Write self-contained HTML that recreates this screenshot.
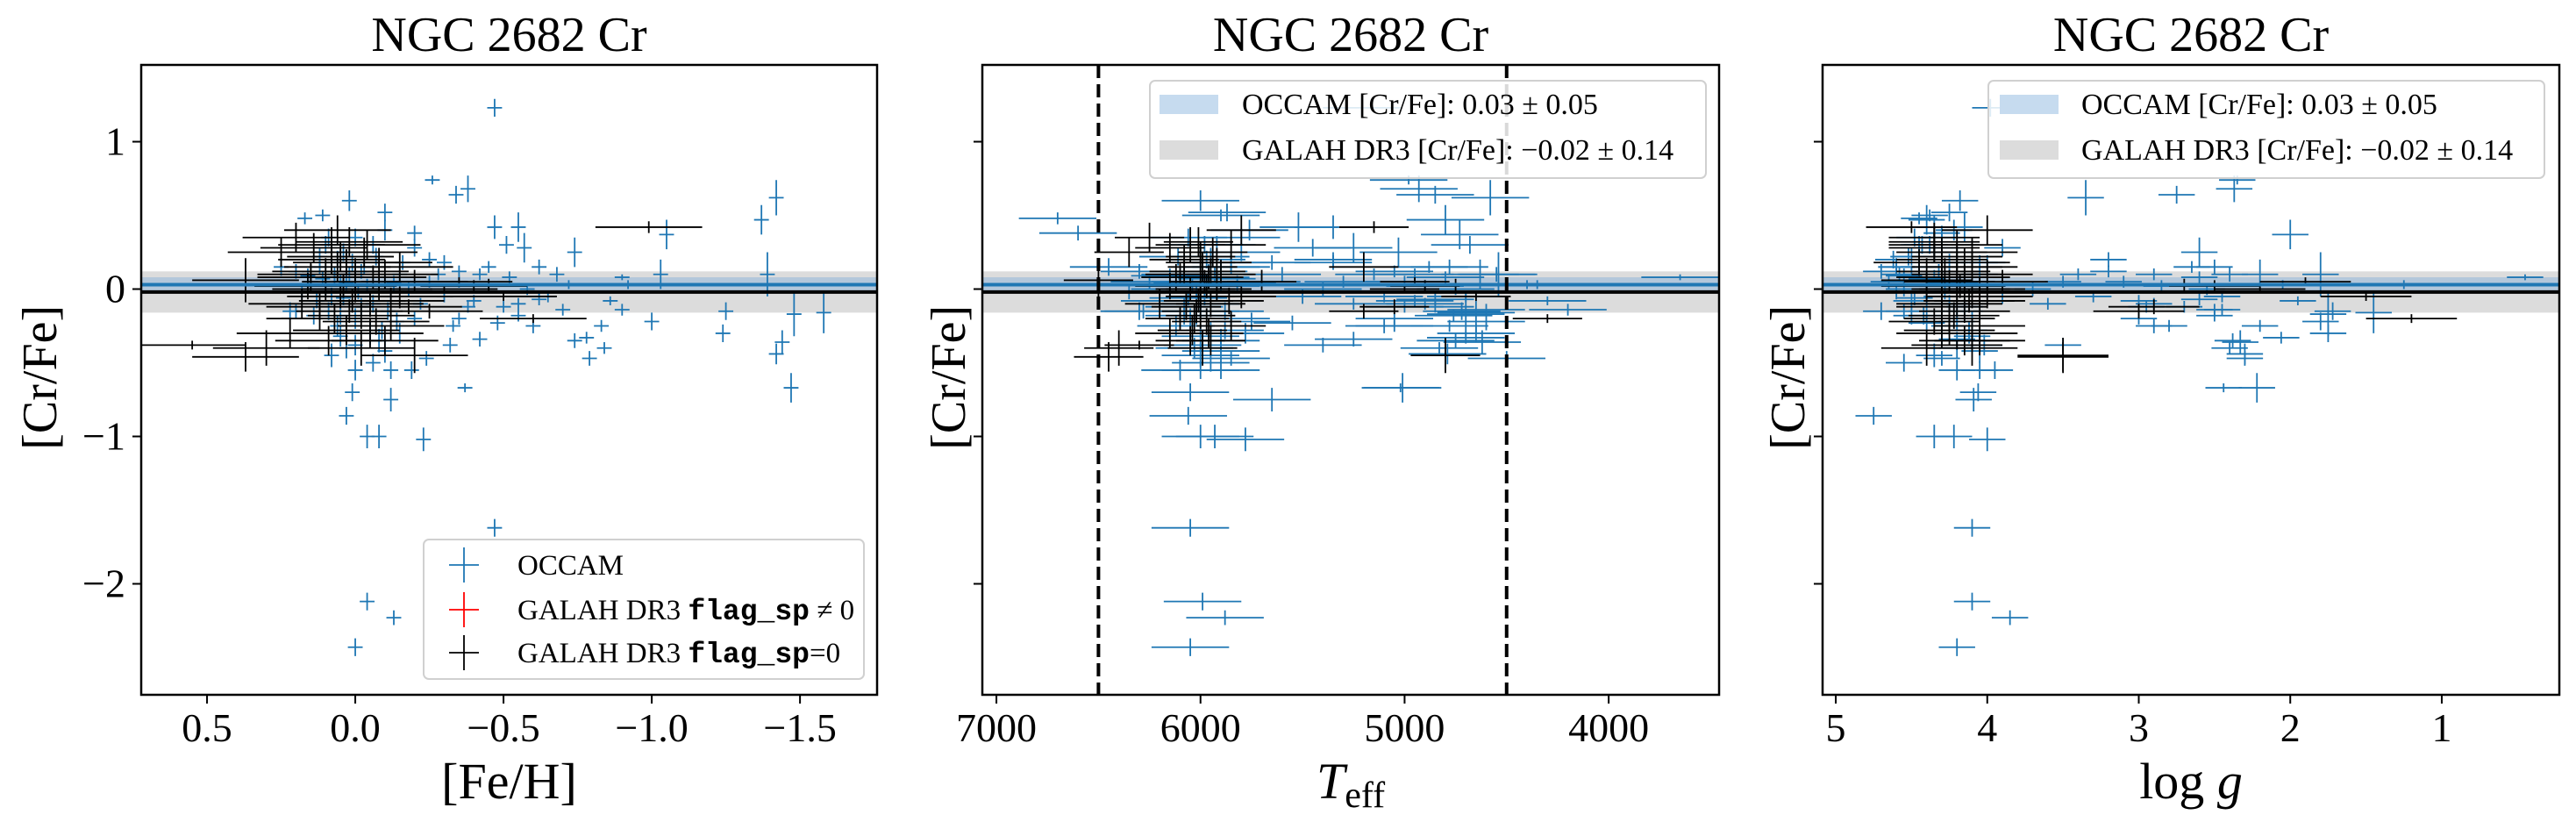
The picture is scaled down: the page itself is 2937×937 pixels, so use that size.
<!DOCTYPE html>
<html><head><meta charset="utf-8">
<style>
html,body{margin:0;padding:0;background:#fff;}
svg{display:block;}
text{font-family:"Liberation Serif","DejaVu Serif",serif;fill:#000;}
</style></head>
<body>
<svg id="fig" width="2937" height="937" viewBox="0 0 2937 937" xmlns="http://www.w3.org/2000/svg"></svg>
<script>
// ---- data ----
const occFeh  = [-0.47,-0.26,-0.34,-0.38,-0.47,-0.55,-0.51,-0.57,-1.05,-1.37,-1.42,-1.39,-1.03,-0.74,0.02,0.11,-0.10,0.17,-0.20,0.00,-0.04,-0.13,-0.47,-0.04,-0.08,-0.23,0.03,0.01,-0.12,-0.37,-1.47,-1.42,-1.44,-1.58,-1.48,-1.24,-1.25,-1.00,-0.79,-0.74,-0.78,-0.83,-0.84,-0.86,-0.90,-0.60,-0.42,-0.48,-0.32,-0.24,-0.19,-0.12,-0.06,0.00,-0.33,-0.20,-0.55,-0.62,-0.70,-0.92,-0.72,-0.90,0.05,0.08,0.02,-0.03,0.10,-0.06,0.12,-0.10,0.00,-0.05,0.04,-0.15,-0.12,0.15,0.20,0.25,-0.02,0.06,-0.08,0.03,-0.18,-0.25,-0.30,-0.35,-0.40,-0.45,-0.50,-0.52,-0.58,-0.65,-0.35,-0.28,-0.22,-0.38,-0.42,0.07,-0.04,0.09,0.13,-0.14,0.01,-0.07,0.18,-0.16,0.05,-0.10,0.00,-0.20,-0.62,-0.68,-0.30,0.10,0.08,0.14,0.11,-0.01,0.06,-0.09,0.16,0.22,-0.13,0.04,-0.02,0.05,0.12,-0.11,0.03,-0.06,0.09,-0.15,0.00,0.07,-0.25,-0.45,-0.55,-0.35,0.20,-0.10];
const occCr   = [1.23,0.74,0.64,0.68,0.42,0.42,0.30,0.28,0.37,0.47,0.62,0.10,0.10,0.25,0.60,0.50,0.52,0.48,0.38,-2.43,-2.12,-2.23,-1.62,-1.00,-1.00,-1.02,-0.86,-0.70,-0.75,-0.67,-0.67,-0.44,-0.36,-0.16,-0.17,-0.30,-0.15,-0.22,-0.47,-0.35,-0.33,-0.25,-0.40,-0.08,-0.14,-0.25,-0.34,-0.23,-0.38,-0.47,-0.55,-0.55,-0.50,-0.55,-0.25,-0.20,-0.10,-0.07,-0.14,0.03,0.03,0.08,0.05,-0.05,0.10,0.15,0.00,-0.10,0.15,0.05,-0.20,-0.30,0.25,0.10,-0.05,0.05,0.12,0.15,-0.12,-0.25,-0.35,-0.40,0.00,0.05,-0.05,0.05,-0.08,0.02,-0.12,0.08,0.00,-0.05,0.12,0.10,-0.10,-0.12,0.10,0.08,0.02,-0.15,-0.08,-0.22,0.18,0.22,-0.02,0.18,-0.32,-0.42,0.35,0.28,0.15,0.10,0.18,0.30,-0.45,-0.18,0.07,-0.02,0.20,-0.28,0.09,-0.15,0.04,-0.06,0.12,-0.18,0.22,-0.15,0.04,0.30,0.35,-0.30,-0.38,0.10,0.20,0.15,-0.18,-0.20,-0.15,0.40];
const occTeff = [5210,4980,4850,4930,5350,5520,4680,5250,4730,4800,4580,4540,4630,5030,6000,5900,5870,6700,6600,6050,5990,5880,6050,6000,5930,5780,6060,6050,5650,5020,5010,4790,4620,4650,4700,4650,4720,4600,4500,4750,4700,4780,4830,4300,4200,5100,5250,5550,5400,5850,5900,6000,5950,6100,5050,5850,4900,4850,4600,4350,4400,3650,6050,5980,6100,5900,6150,6000,5850,5700,6050,5950,5800,5600,5500,6250,6300,6450,6080,6120,5900,6030,5400,5300,5100,5000,4950,4900,4850,4800,4750,4700,5050,5150,5250,5000,4950,5950,5900,6000,6200,5750,5850,5950,6350,5650,6000,5900,5800,5450,4780,4550,5350,5980,6000,6080,5920,6020,5970,5880,6150,6300,5820,6060,5960,6020,6110,5880,6040,5920,6060,5780,5990,5930,5350,4880,4760,5050,6280,5760];
const occLogg = [3.98,2.35,2.75,2.37,4.35,4.15,4.43,4.30,2.00,4.40,3.35,1.80,2.20,2.60,4.18,4.38,4.25,4.45,4.30,4.20,4.10,3.85,4.10,4.35,4.22,4.00,4.75,4.06,4.09,2.44,2.22,2.30,2.33,1.45,1.75,1.75,1.72,1.80,2.30,2.38,2.06,2.20,2.40,1.95,2.50,2.90,4.20,4.40,3.50,4.30,3.95,4.05,4.55,4.20,2.80,4.10,2.90,2.60,2.45,2.05,1.25,0.45,4.40,4.30,4.50,4.45,4.55,4.25,4.60,4.15,4.20,4.30,4.35,4.05,3.90,4.65,4.70,4.60,4.15,4.25,4.10,4.20,3.70,3.50,3.30,3.10,3.00,2.85,2.70,2.60,2.55,2.45,3.20,3.40,3.60,2.95,2.90,4.35,4.30,4.40,4.50,4.20,4.25,4.50,4.60,4.05,4.10,4.05,4.30,3.90,2.50,2.40,4.00,4.45,4.35,4.50,4.40,4.28,4.62,4.12,4.55,4.70,4.18,4.48,4.32,4.42,4.52,4.15,4.28,4.38,4.48,4.12,4.02,4.58,3.20,2.65,2.50,3.00,4.55,4.22];
const occECr  = [0.06,0.03,0.06,0.09,0.08,0.10,0.06,0.10,0.10,0.10,0.12,0.15,0.10,0.10,0.07,0.04,0.06,0.04,0.05,0.06,0.06,0.05,0.06,0.08,0.08,0.08,0.06,0.06,0.08,0.03,0.10,0.07,0.08,0.14,0.15,0.06,0.06,0.06,0.05,0.05,0.04,0.04,0.04,0.03,0.04,0.05,0.05,0.05,0.05,0.05,0.06,0.06,0.06,0.07,0.04,0.05,0.04,0.04,0.04,0.03,0.03,0.02,0.05,0.06,0.05,0.05,0.05,0.06,0.05,0.05,0.07,0.08,0.06,0.05,0.05,0.05,0.05,0.06,0.06,0.07,0.08,0.07,0.05,0.04,0.04,0.04,0.04,0.04,0.04,0.04,0.04,0.04,0.04,0.04,0.04,0.04,0.04,0.05,0.05,0.06,0.05,0.06,0.06,0.06,0.05,0.05,0.07,0.08,0.06,0.06,0.05,0.05,0.05,0.06,0.08,0.06,0.05,0.05,0.06,0.06,0.05,0.06,0.05,0.05,0.05,0.06,0.06,0.06,0.05,0.06,0.06,0.07,0.07,0.05,0.05,0.04,0.04,0.04,0.05,0.07];
const galFeh  = [0.55,0.37,-0.99,0.37,0.25,0.20,0.15,0.10,0.05,0.00,-0.05,-0.10,0.08,0.02,-0.08,0.12,-0.15,0.18,0.06,-0.03,0.03,-0.12,0.08,0.22,-0.20,-0.06,0.01,0.04,0.10,-0.02,0.30,-0.25,-0.40,-0.30,-0.50,-0.60,-0.35,-0.20,0.06,-0.04,0.14,-0.10,0.09,0.00,0.16,-0.15,-0.18,-0.45,0.03,-0.07,0.05,-0.05,0.12,0.00,-0.08,0.07,0.02,-0.12,0.15,-0.02];
const galCr   = [-0.38,-0.46,0.42,0.06,0.25,0.35,0.10,0.00,-0.05,0.05,-0.10,0.10,0.20,-0.15,0.00,-0.20,-0.05,-0.10,0.15,0.25,-0.28,-0.25,0.30,-0.30,0.05,0.08,-0.08,0.02,0.12,-0.18,-0.40,-0.15,0.02,0.00,-0.05,-0.20,0.05,-0.45,0.40,0.30,0.28,-0.35,-0.35,0.12,0.02,0.15,-0.12,0.03,0.18,-0.22,0.22,-0.30,-0.12,0.00,0.18,-0.20,0.32,-0.08,0.08,-0.40];
const galTeff = [6300,6450,5150,6500,6350,6250,6100,6050,6000,5980,5950,5900,6080,6020,5920,6100,5800,6200,5990,5940,6040,5850,6050,6150,5700,5960,6010,5970,6080,6000,6400,5200,4900,5000,4650,4300,4950,4800,5800,5850,6150,5950,6050,5950,6150,5200,5050,4750,6000,5970,6000,5960,6070,6000,5920,6030,6010,5860,6120,5990];
const galLogg = [4.20,3.50,4.50,4.40,4.30,4.35,4.20,4.15,4.10,4.25,4.20,4.00,4.30,4.15,4.05,4.25,4.00,4.30,4.20,4.10,4.25,4.05,4.35,4.30,3.90,4.15,4.12,4.18,4.28,4.22,4.40,3.00,2.50,2.20,1.50,1.20,1.90,3.50,4.00,4.20,4.35,4.15,4.05,4.30,4.40,4.10,2.90,2.70,4.45,4.35,4.20,4.10,4.30,4.20,4.15,4.25,4.35,4.05,4.30,4.10];
const galECr  = [0.03,0.10,0.04,0.15,0.10,0.10,0.08,0.08,0.08,0.08,0.09,0.10,0.10,0.08,0.08,0.08,0.08,0.10,0.10,0.10,0.10,0.10,0.12,0.10,0.08,0.08,0.08,0.08,0.09,0.09,0.12,0.05,0.04,0.03,0.03,0.03,0.03,0.12,0.10,0.10,0.10,0.10,0.10,0.09,0.09,0.10,0.05,0.04,0.09,0.09,0.10,0.10,0.09,0.09,0.10,0.10,0.10,0.09,0.09,0.12];
const yTicks = [1,0,-1,-2];
const xTicks1 = [0.5,0.0,-0.5,-1.0,-1.5];
const xTickLabels1 = ["0.5","0.0","\u22120.5","\u22121.0","\u22121.5"];
const xTicks2 = [7000,6000,5000,4000];
const xTicks3 = [5,4,3,2,1];
const occamMean = [0.03,0.05];
const galahMean = [-0.02,0.14];
const teffCuts = [6500,4500];

const NS = "http://www.w3.org/2000/svg";
const svg = document.getElementById('fig');
function mk(tag, attrs, parent){const e=document.createElementNS(NS,tag);for(const k in attrs)e.setAttribute(k,attrs[k]);(parent||svg).appendChild(e);return e;}

const TOP=74, BOT=792, YMAX=1.521, YMIN=-2.753;
function yS(v){return TOP+(YMAX-v)/(YMAX-YMIN)*(BOT-TOP);}
const panels = [
 {l:161,r:1000,x0:0.722,x1:-1.76,xv:occFeh,gx:galFeh,ex:0.025,gex:0.18,ticks:xTicks1,labels:xTickLabels1,ylab:46,xlabel:"[Fe/H]",name:"feh"},
 {l:1120,r:1960,x0:7069,x1:3459,xv:occTeff,gx:galTeff,ex:190,gex:170,ticks:xTicks2,labels:xTicks2.map(String),ylab:1082,xlabel:"T",name:"teff"},
 {l:2078,r:2918,x0:5.087,x1:0.224,xv:occLogg,gx:galLogg,ex:0.12,gex:0.3,ticks:xTicks3,labels:xTicks3.map(String),ylab:2039,xlabel:"log g",name:"logg"}
];
panels.forEach((p,pi)=>{
  const xS=v=>p.l+(v-p.x0)/(p.x1-p.x0)*(p.r-p.l);
  const g=mk('g',{});
  
  
  const clipId='clip'+pi;
  const cp=mk('clipPath',{id:clipId},g); mk('rect',{x:p.l,y:TOP,width:p.r-p.l,height:BOT-TOP},cp);
  const pl=mk('g',{'clip-path':'url(#'+clipId+')'},g);
  const gb=mk('rect',{x:p.l,y:yS(galahMean[0]+galahMean[1]),width:p.r-p.l,height:yS(galahMean[0]-galahMean[1])-yS(galahMean[0]+galahMean[1]),fill:'#dcdcdc'},pl);
   
  const ob=mk('rect',{x:p.l,y:yS(occamMean[0]+occamMean[1]),width:p.r-p.l,height:yS(occamMean[0]-occamMean[1])-yS(occamMean[0]+occamMean[1]),fill:'#b3c7db'},pl);
   
  for(let i=0;i<occCr.length;i++){
    const cx=xS(p.xv[i]), cy=yS(occCr[i]);
    const e=mk('path',{d:`M${xS(p.xv[i]-p.ex)} ${cy}H${xS(p.xv[i]+p.ex)}M${cx} ${yS(occCr[i]+occECr[i])}V${yS(occCr[i]-occECr[i])}`,stroke:'#1f77b4','stroke-width':1.8,fill:'none'},pl);
    
    
  }
  for(let i=0;i<galCr.length;i++){
    const cx=xS(p.gx[i]), cy=yS(galCr[i]);
    const e=mk('path',{d:`M${xS(p.gx[i]-p.gex)} ${cy}H${xS(p.gx[i]+p.gex)}M${cx} ${yS(galCr[i]+galECr[i])}V${yS(galCr[i]-galECr[i])}`,stroke:'#000','stroke-width':1.8,fill:'none'},pl);
    
    
  }
  const bl=mk('line',{x1:p.l,x2:p.r,y1:yS(occamMean[0]),y2:yS(occamMean[0]),stroke:'#1f77b4','stroke-width':4},pl);
   
  const kl=mk('line',{x1:p.l,x2:p.r,y1:yS(galahMean[0]),y2:yS(galahMean[0]),stroke:'#000','stroke-width':4},pl);
   
  if(pi===1){
    teffCuts.forEach(t=>{
      const d=mk('line',{x1:xS(t),x2:xS(t),y1:TOP,y2:BOT,stroke:'#000','stroke-width':4,'stroke-dasharray':'15 7'},pl);
       
    });
  }
  const fr=mk('rect',{x:p.l,y:TOP,width:p.r-p.l,height:BOT-TOP,fill:'none',stroke:'#000','stroke-width':2.5},g);
   
  yTicks.forEach(v=>{
    mk('line',{x1:p.l-10,x2:p.l,y1:yS(v),y2:yS(v),stroke:'#000','stroke-width':2},g);
    if(pi===0){
      const t=mk('text',{x:p.l-18,y:yS(v)+15,'font-size':46,'text-anchor':'end'},g);
      t.textContent=v<0?'\u2212'+Math.abs(v):String(v);
       
    }
  });
  p.ticks.forEach((v,k)=>{
    mk('line',{x1:xS(v),x2:xS(v),y1:BOT,y2:BOT+10,stroke:'#000','stroke-width':2},g);
    const t=mk('text',{x:xS(v),y:845,'font-size':46,'text-anchor':'middle'},g);
    t.textContent=p.labels[k];
     
  });
  const title=mk('text',{x:(p.l+p.r)/2,y:58,'font-size':56,'text-anchor':'middle'},g);
  title.textContent='NGC 2682 Cr';
   
  const yl=mk('text',{x:p.ylab,y:yS(-0.6),'font-size':56,'text-anchor':'middle',transform:`rotate(-90 ${p.ylab} ${yS(-0.6)})`,dy:18},g);
  yl.textContent='[Cr/Fe]';
   
  const xl=mk('text',{x:(p.l+p.r)/2,y:910,'font-size':58,'text-anchor':'middle'},g);
  if(pi===1){xl.innerHTML='<tspan font-style="italic">T</tspan><tspan font-size="42" dy="10">eff</tspan>';}
  else if(pi===2){xl.innerHTML='log <tspan font-style="italic">g</tspan>';}
  else xl.textContent=p.xlabel;
   
});

(function(){
  const g=mk('g',{});
   
  mk('rect',{x:483,y:615,width:502,height:159,rx:6,fill:'#fff','fill-opacity':0.85,stroke:'#d0d0d0','stroke-width':2},g);
  const items=[['#1f77b4','OCCAM',644],['#ff0000','GALAH DR3 <tspan font-family="Liberation Mono" font-weight="bold">flag_sp</tspan> \u2260 0',695],['#000','GALAH DR3 <tspan font-family="Liberation Mono" font-weight="bold">flag_sp</tspan>=0',744]];
  items.forEach(it=>{
    const e=mk('g',{},g);
     
    mk('path',{d:`M512 ${it[2]}H546M529 ${it[2]-20}V${it[2]+20}`,stroke:it[0],'stroke-width':1.8,fill:'none'},e);
    const t=mk('text',{x:590,y:it[2]+11,'font-size':33},e); t.innerHTML=it[1];
  });
})();
[[1311,1322,1416],[2267,2280,2373]].forEach(L=>{
  const g=mk('g',{});
   
  mk('rect',{x:L[0],y:92,width:634,height:111,rx:6,fill:'#fff','fill-opacity':0.85,stroke:'#d0d0d0','stroke-width':2},g);
  const e1=mk('g',{},g);  
  mk('rect',{x:L[1],y:108,width:67,height:22,fill:'#c6dbef'},e1);
  const t1=mk('text',{x:L[2],y:130,'font-size':34},e1); t1.textContent='OCCAM [Cr/Fe]:  0.03 \u00b1 0.05';
  const e2=mk('g',{},g);  
  mk('rect',{x:L[1],y:160,width:67,height:22,fill:'#dcdcdc'},e2);
  const t2=mk('text',{x:L[2],y:182,'font-size':34},e2); t2.textContent='GALAH DR3 [Cr/Fe]:  \u22120.02 \u00b1 0.14';
});
</script>
</body></html>
